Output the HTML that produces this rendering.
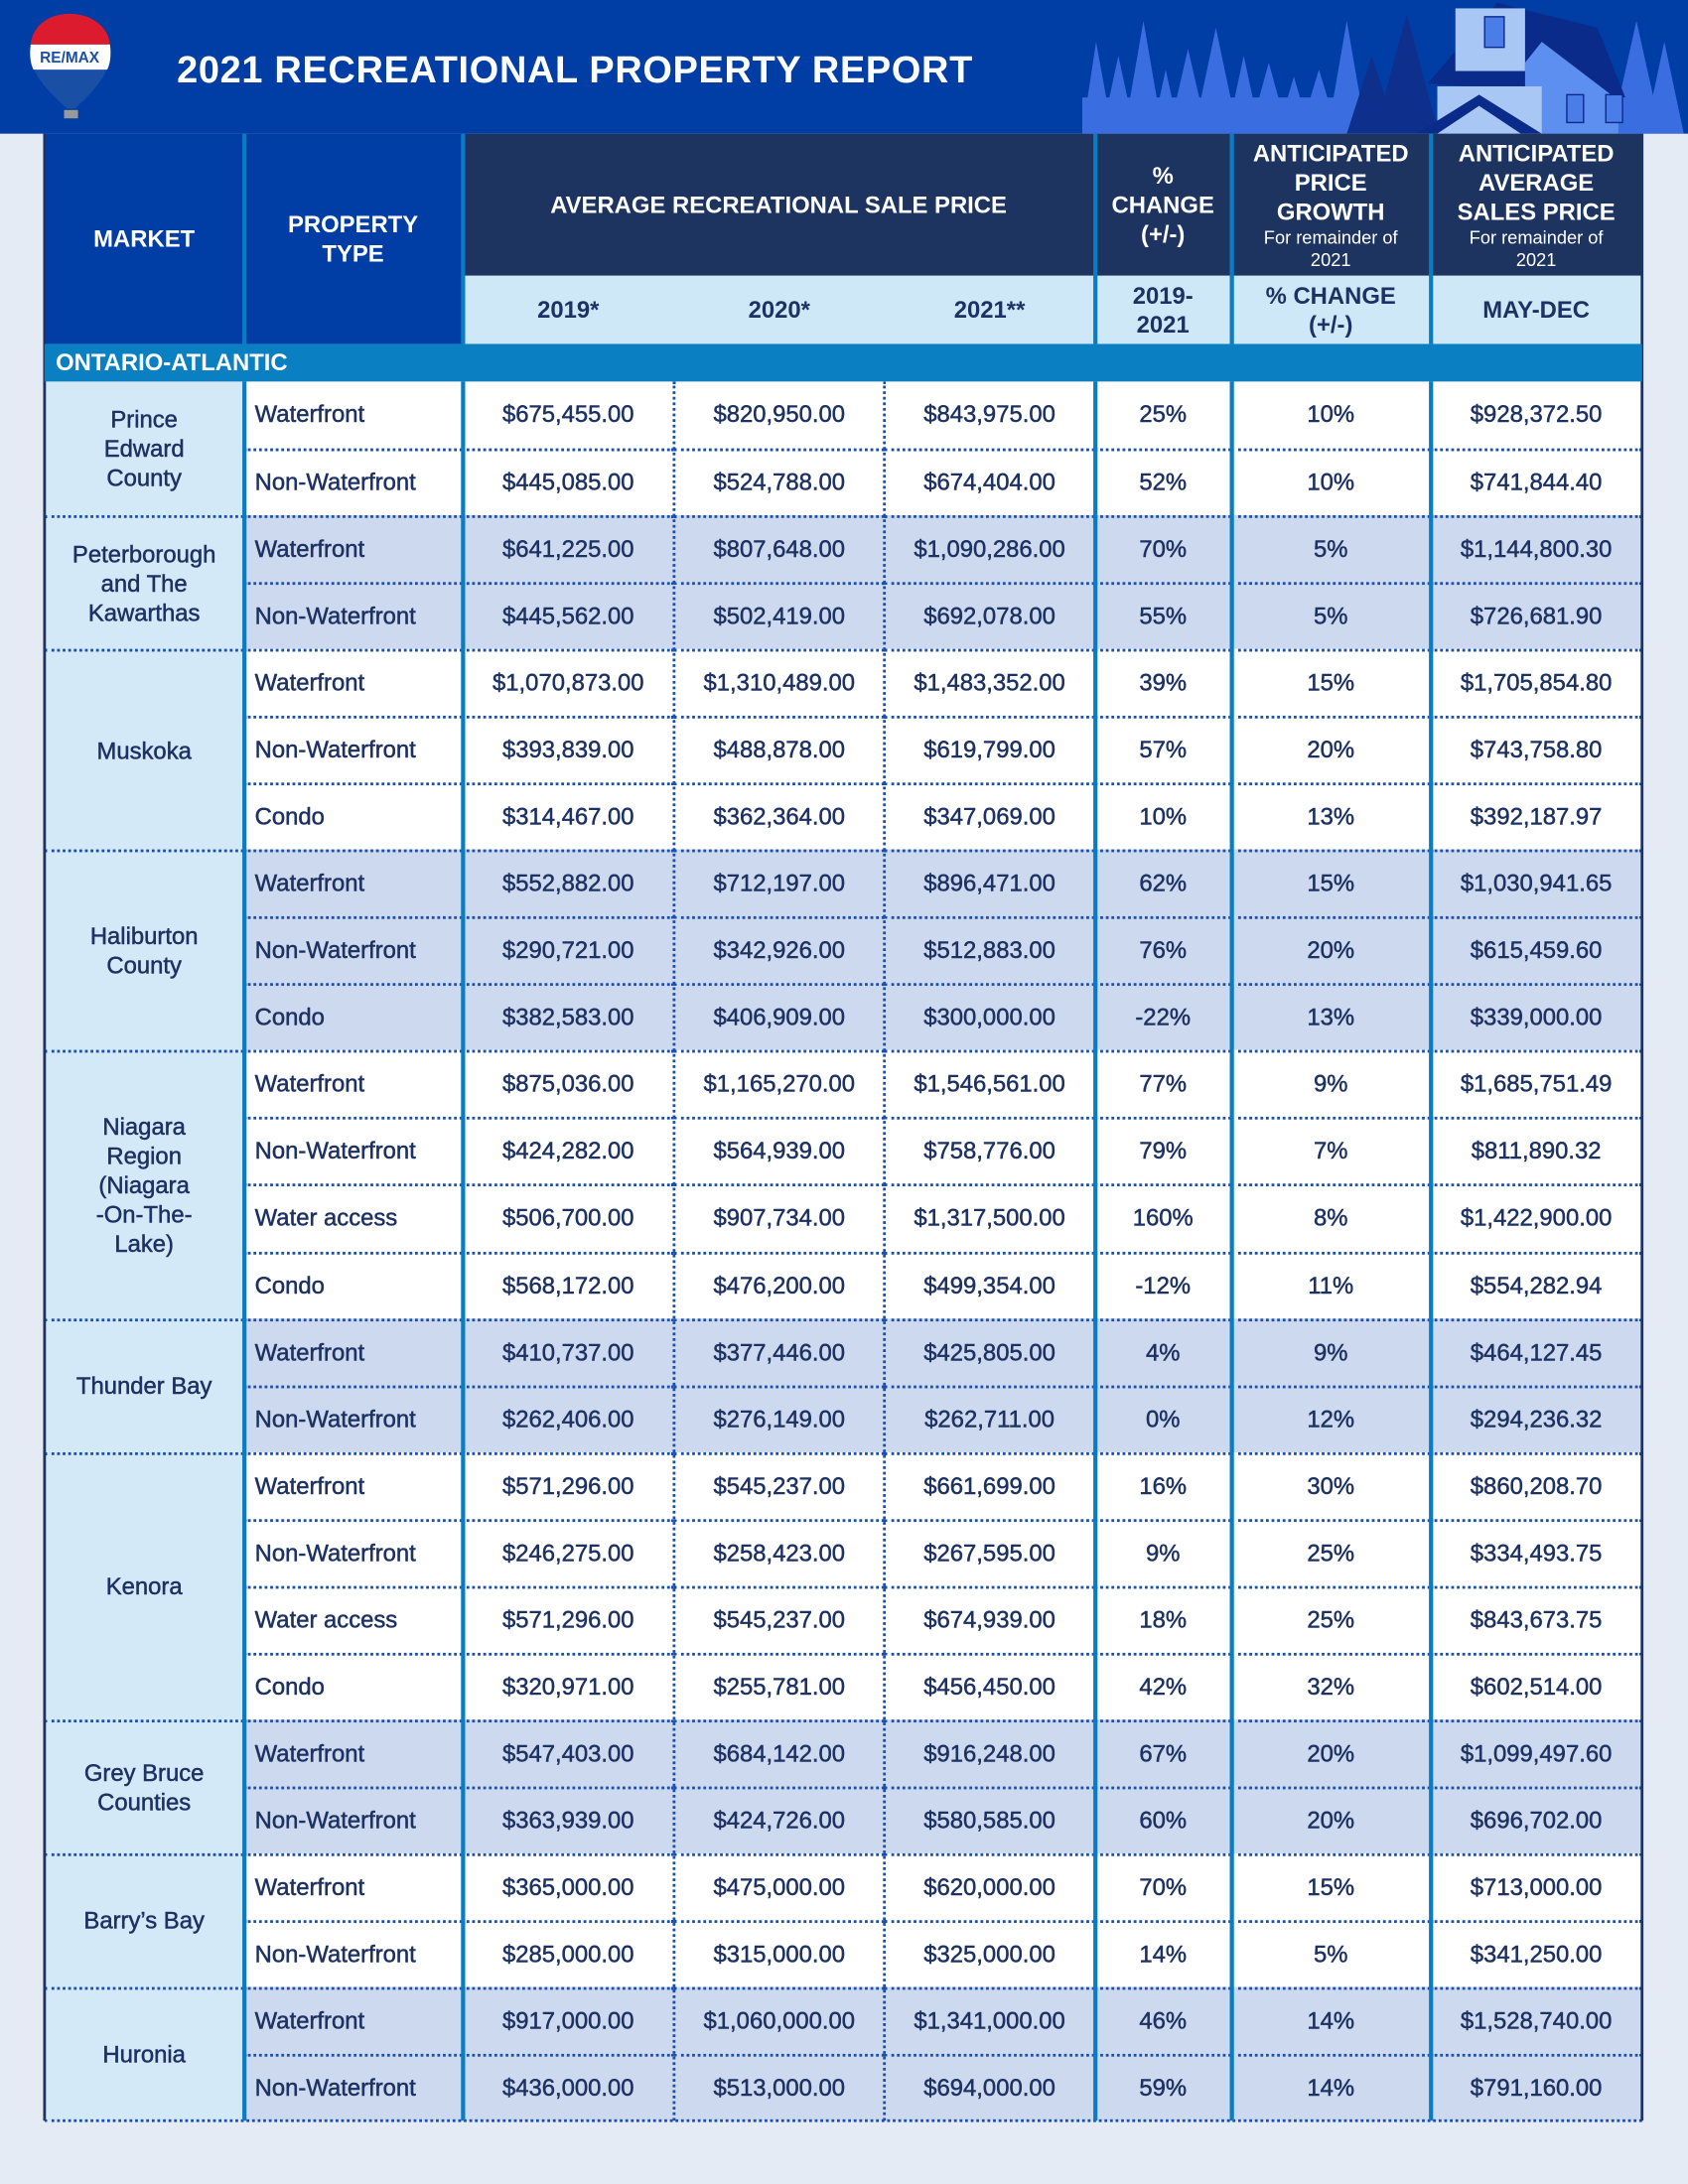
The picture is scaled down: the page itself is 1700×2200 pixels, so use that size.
<!DOCTYPE html>
<html><head><meta charset="utf-8"><style>
html,body{margin:0;padding:0;background:#e4ebf5;}
#page{position:relative;width:1212px;height:1568px;transform:scale(1.40264);transform-origin:0 0;overflow:hidden;font-family:"Liberation Sans",sans-serif;color:#1d3263;background:#e4ebf5;}
.abs{position:absolute;box-sizing:border-box;}
.c{display:flex;align-items:center;justify-content:center;text-align:center;}
.hdr{color:#fff;font-weight:bold;font-size:17px;line-height:21px;}
.sub{font-weight:normal;font-size:13px;line-height:16px;}
.lh{color:#1d3263;font-weight:bold;font-size:17px;line-height:21px;}
.cell{font-size:17px;-webkit-text-stroke:0.35px #1d3263;}
</style></head><body>
<div id="page">
<div class="abs" style="left:0;top:0;width:1212px;height:96px;background:#003da5"></div>
<svg class="abs" style="left:18px;top:8px" width="66" height="80">
<path d="M32 2 C12 2 3 16 4 32 C5 48 20 60 30 70 L36 70 C46 60 60 48 61 32 C62 16 52 2 32 2Z" fill="#1a4fa6"/>
<path d="M32 2 C14 2 5 13 4 24 L61 24 C60 13 50 2 32 2Z" fill="#dc1c2e"/>
<path d="M4 24 L61 24 C62 32 61 38 59 42 L6 42 C4 38 3 32 4 24Z" fill="#fff"/>
<text x="32" y="37" font-size="11" font-weight="bold" fill="#1a4fa6" text-anchor="middle" font-family="Liberation Sans">RE/MAX</text>
<rect x="28" y="71" width="10" height="6" fill="#999"/>
</svg>
<div class="abs hdr" style="left:127px;top:32px;font-size:27px;line-height:36px;letter-spacing:0.5px">2021 RECREATIONAL PROPERTY REPORT</div>
<svg class="abs" style="left:777px;top:0" width="435" height="96">
<g fill="#3a6ee0">
<polygon points="0,96 10,30 22,96"/><polygon points="14,96 26,40 38,96"/><polygon points="30,96 44,15 58,96"/><polygon points="50,96 60,50 70,96"/><polygon points="62,96 76,35 90,96"/><polygon points="80,96 96,20 112,96"/><polygon points="104,96 116,40 128,96"/><polygon points="120,96 134,45 148,96"/><polygon points="140,96 152,55 164,96"/><polygon points="156,96 170,50 184,96"/><polygon points="176,96 190,15 204,96"/><polygon points="196,96 208,40 220,96"/>
<polygon points="380,96 398,15 416,96"/><polygon points="404,96 418,30 432,96"/>
<rect x="0" y="70" width="200" height="26"/>
</g>
<g fill="#0e2f8c"><polygon points="190,96 208,40 226,96"/><polygon points="210,96 233,10 256,96"/></g>
<polygon points="248,60 298,2 370,20 390,70" fill="#0b2b8a"/>
<rect x="268" y="6" width="50" height="45" fill="#a9c7f5"/>
<polygon points="330,30 385,72 385,96 318,96 318,45" fill="#5d8ff0"/>
<rect x="255" y="62" width="75" height="34" fill="#a9c7f5"/>
<polygon points="240,96 285,68 330,96" fill="#0b2b8a"/>
<polygon points="255,96 285,76 315,96" fill="#a9c7f5"/>
<rect x="289" y="12" width="14" height="22" fill="#4a7de8" stroke="#0b2b8a"/>
<rect x="348" y="68" width="12" height="20" fill="#4a7de8" stroke="#0b2b8a"/><rect x="376" y="68" width="12" height="20" fill="#4a7de8" stroke="#0b2b8a"/>
</svg>
<div id="table"></div>
</div>
<script>
const markets=["Prince<br>Edward<br>County","Peterborough<br>and The<br>Kawarthas","Muskoka","Haliburton<br>County","Niagara<br>Region<br>(Niagara<br>-On-The-<br>Lake)","Thunder Bay","Kenora","Grey Bruce<br>Counties","Barry’s Bay","Huronia"];
const groupTypes=[["Waterfront","Non-Waterfront"],["Waterfront","Non-Waterfront"],["Waterfront","Non-Waterfront","Condo"],["Waterfront","Non-Waterfront","Condo"],["Waterfront","Non-Waterfront","Water access","Condo"],["Waterfront","Non-Waterfront"],["Waterfront","Non-Waterfront","Water access","Condo"],["Waterfront","Non-Waterfront"],["Waterfront","Non-Waterfront"],["Waterfront","Non-Waterfront"]];
const price2019=["$675,455.00","$445,085.00","$641,225.00","$445,562.00","$1,070,873.00","$393,839.00","$314,467.00","$552,882.00","$290,721.00","$382,583.00","$875,036.00","$424,282.00","$506,700.00","$568,172.00","$410,737.00","$262,406.00","$571,296.00","$246,275.00","$571,296.00","$320,971.00","$547,403.00","$363,939.00","$365,000.00","$285,000.00","$917,000.00","$436,000.00"];
const price2020=["$820,950.00","$524,788.00","$807,648.00","$502,419.00","$1,310,489.00","$488,878.00","$362,364.00","$712,197.00","$342,926.00","$406,909.00","$1,165,270.00","$564,939.00","$907,734.00","$476,200.00","$377,446.00","$276,149.00","$545,237.00","$258,423.00","$545,237.00","$255,781.00","$684,142.00","$424,726.00","$475,000.00","$315,000.00","$1,060,000.00","$513,000.00"];
const price2021=["$843,975.00","$674,404.00","$1,090,286.00","$692,078.00","$1,483,352.00","$619,799.00","$347,069.00","$896,471.00","$512,883.00","$300,000.00","$1,546,561.00","$758,776.00","$1,317,500.00","$499,354.00","$425,805.00","$262,711.00","$661,699.00","$267,595.00","$674,939.00","$456,450.00","$916,248.00","$580,585.00","$620,000.00","$325,000.00","$1,341,000.00","$694,000.00"];
const change=["25%","52%","70%","55%","39%","57%","10%","62%","76%","-22%","77%","79%","160%","-12%","4%","0%","16%","9%","18%","42%","67%","60%","70%","14%","46%","59%"];
const growth=["10%","10%","5%","5%","15%","20%","13%","15%","20%","13%","9%","7%","8%","11%","9%","12%","30%","25%","25%","32%","20%","20%","15%","5%","14%","14%"];
const anticipated=["$928,372.50","$741,844.40","$1,144,800.30","$726,681.90","$1,705,854.80","$743,758.80","$392,187.97","$1,030,941.65","$615,459.60","$339,000.00","$1,685,751.49","$811,890.32","$1,422,900.00","$554,282.94","$464,127.45","$294,236.32","$860,208.70","$334,493.75","$843,673.75","$602,514.00","$1,099,497.60","$696,702.00","$713,000.00","$341,250.00","$1,528,740.00","$791,160.00"];

const P=document.getElementById('page');
const X=[32,175,332,484,635,786,884,1027,1179];
function box(x,y,w,h,style,text,cls,name){
  const d=document.createElement('div');
  d.className='abs c '+(cls||'');
  d.style.cssText=`left:${x}px;top:${y}px;width:${w}px;height:${h}px;`+(style||'');
  if(text!==undefined) d.innerHTML=text;
  
  
  P.appendChild(d);return d;
}
box(32,96,143,151,'background:#003da5','MARKET','hdr','market-header');
box(175,96,157,151,'background:#003da5','PROPERTY<br>TYPE','hdr','property-type-header');
box(332,96,454,102,'background:#1d3461','AVERAGE RECREATIONAL SALE PRICE','hdr','average-price-header');
box(786,96,98,102,'background:#1d3461','%<br>CHANGE<br>(+/-)','hdr','change-header');
box(884,96,143,102,'background:#1d3461','<div>ANTICIPATED<br>PRICE<br>GROWTH<div class="sub">For remainder of<br>2021</div></div>','hdr','price-growth-header');
box(1027,96,152,102,'background:#1d3461','<div>ANTICIPATED<br>AVERAGE<br>SALES PRICE<div class="sub">For remainder of<br>2021</div></div>','hdr','anticipated-price-header');
const subs=['2019*','2020*','2021**','2019-<br>2021','% CHANGE<br>(+/-)','MAY-DEC'];
const subNames=['year-2019-header','year-2020-header','year-2021-header','change-period-header','growth-subheader','may-dec-header'];
for(let i=0;i<6;i++) box(X[i+2],198,X[i+3]-X[i+2],49,'background:#cfe8f8',subs[i],'lh',subNames[i]);
const RH=48.04;let y=274,r=0;
const dot='border-top:2px dotted #1a4fb0;';
groupTypes.forEach((types,g)=>{
  const bg=g%2?'#cdd9ee':'#fff';
  const h=types.length*RH;
  box(32,y,143,h,'background:#d3e9f8;'+(g?dot:'')+'padding:0 4px;line-height:21px;',markets[g],'cell','market-'+g);
  types.forEach((t,k)=>{
    const yy=y+k*RH;
    const top=(g||k)?dot:'';
    box(175,yy,157,RH,'background:'+bg+';justify-content:flex-start;padding-left:8px;'+top,t,'cell','property-type');
    const vals=[price2019[r],price2020[r],price2021[r],change[r],growth[r],anticipated[r]];
    const nm=['price-2019','price-2020','price-2021','change-2019-2021','growth-forecast','anticipated-price'];
    vals.forEach((v,i)=>box(X[i+2],yy,X[i+3]-X[i+2],RH,'background:'+bg+';'+top,v,'cell',nm[i]));
    r++;
  });
  y+=h;
});
const end=y;
box(32,end-1,1147,2,'border-top:2px dotted #1a4fb0','', '', 'table-bottom-border');
box(31,96,2,end-96,'background:#1d3461','', '', 'left-border');
box(1178,96,2,end-96,'background:#1d3461','', '', 'right-border');
[175,332,786,884,1027].forEach(x=>{
  box(x-1,96,3,151,'background:#0a7cc4','', '', 'column-divider-header');
  box(x-1,274,3,end-274,'background:#0a7cc4','', '', 'column-divider');
});
[484,635].forEach(x=>box(x-1,274,2,end-274,'border-left:2px dotted #1a4fb0','', '', 'dotted-divider'));
box(32,247,1147,27,'background:#0a7fc2;justify-content:flex-start;padding-left:8px','ONTARIO-ATLANTIC','hdr','region-header');
</script>
</body></html>
